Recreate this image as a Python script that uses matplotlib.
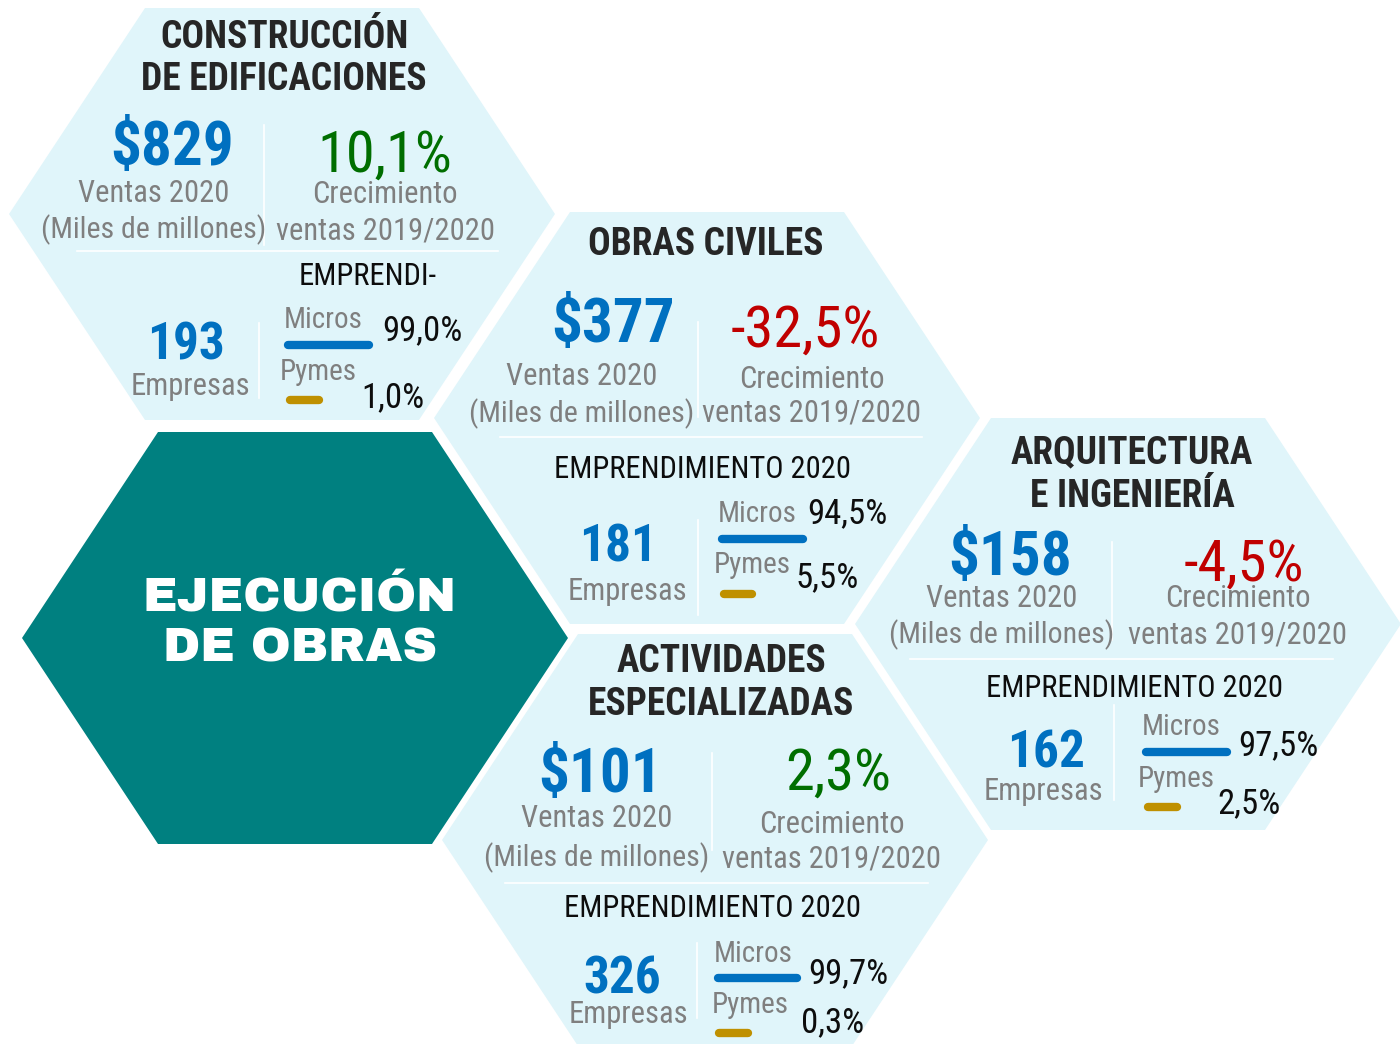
import matplotlib
matplotlib.use('Agg')
import matplotlib.pyplot as plt
from matplotlib.patches import Polygon

# Datos por subsector
sectores = [['CONSTRUCCIÓN', 'DE EDIFICACIONES'], ['OBRAS CIVILES'],
            ['ARQUITECTURA', 'E INGENIERÍA'], ['ACTIVIDADES', 'ESPECIALIZADAS']]
ventas = [829, 377, 158, 101]           # miles de millones
crecimiento = [10.1, -32.5, -4.5, 2.3]  # % ventas 2019/2020
empresas = [193, 181, 162, 326]
micros = [99.0, 94.5, 97.5, 99.7]
pymes = [1.0, 5.5, 2.5, 0.3]
titulo_emp = ['EMPRENDI-', 'EMPRENDIMIENTO 2020', 'EMPRENDIMIENTO 2020', 'EMPRENDIMIENTO 2020']
titulo_central = ['EJECUCIÓN', 'DE OBRAS']

# Posiciones (pixeles) de cada hexagono
layout = [
    dict(centro=(282, 214), titulo=[48, 90], tit_x=284, ventas=(172, 165), v_x=154, v_lbl=(202, 238),
         sep_v=(264, 125, 245), crec=(385, 172), c_x=385, c_lbl=(203, 239), sep_h=(251, 77, 498),
         emp_tit=(368, 285), emp=(186, 360), emp_lbl=(190, 395), sep_v2=(259, 323, 398),
         mic=(284, 328), mic_val=(382, 340), bar_m=(284, 373, 345), pym=(280, 380), pym_val=(361, 407),
         bar_p=(286, 323, 400)),
    dict(centro=(707, 418), titulo=[255], tit_x=706, ventas=(613, 342), v_x=582, v_lbl=(385, 422),
         sep_v=(698, 322, 417), crec=(805, 347), c_x=812, c_lbl=(388, 422), sep_h=(437, 500, 922),
         emp_tit=(703, 478), emp=(618, 562), emp_lbl=(627, 600), sep_v2=(698, 520, 615),
         mic=(718, 522), mic_val=(807, 523), bar_m=(718, 807, 539), pym=(714, 573), pym_val=(795, 587),
         bar_p=(720, 756, 594)),
    dict(centro=(1128, 624), titulo=[463, 507], tit_x=1132, ventas=(1010, 575), v_x=1002, v_lbl=(607, 643),
         sep_v=(1112, 542, 640), crec=(1244, 581), c_x=1238, c_lbl=(607, 643), sep_h=(659, 910, 1333),
         emp_tit=(1135, 697), emp=(1046, 767), emp_lbl=(1043, 800), sep_v2=(1114, 705, 800),
         mic=(1142, 735), mic_val=(1238, 755), bar_m=(1142, 1231, 752), pym=(1138, 787), pym_val=(1217, 813),
         bar_p=(1144, 1181, 807)),
    dict(centro=(715, 840), titulo=[672, 715], tit_x=721, ventas=(600, 792), v_x=597, v_lbl=(827, 866),
         sep_v=(712, 753, 850), crec=(838, 790), c_x=832, c_lbl=(833, 868), sep_h=(883, 505, 928),
         emp_tit=(713, 917), emp=(622, 993), emp_lbl=(628, 1023), sep_v2=(697, 943, 1018),
         mic=(714, 962), mic_val=(808, 983), bar_m=(714, 801, 978), pym=(712, 1013), pym_val=(801, 1032),
         bar_p=(715, 752, 1033)),
]
centro_principal = (295, 638)

AZUL_FONDO = '#e0f5fa'
TEAL = '#008080'
AZUL = '#0070c0'
VERDE = '#006e00'
ROJO = '#c00000'
GRIS = '#7f7f7f'
NEGRO = '#0d0d0d'
DORADO = '#bf9000'

NARROW = ['Roboto Condensed', 'Liberation Sans', 'DejaVu Sans']


def hexagono(cx, cy, color):
    hw, te, hh = 273, 137, 206
    pts = [(cx - hw, cy), (cx - te, cy - hh), (cx + te, cy - hh),
           (cx + hw, cy), (cx + te, cy + hh), (cx - te, cy + hh)]
    return Polygon(pts, closed=True, facecolor=color, edgecolor='none', zorder=1)


def pct(v):
    return f'{v:.1f}%'.replace('.', ',')


fig = plt.figure(figsize=(14, 10.44), dpi=100)
ax = fig.add_axes([0, 0, 1, 1])
ax.set_xlim(0, 1400)
ax.set_ylim(1044, 0)
ax.axis('off')

# hexagono central
ax.add_patch(hexagono(*centro_principal, TEAL))
for linea, yb in zip(titulo_central, [611, 662]):
    ax.text(300, yb, linea, ha='center', va='baseline', color='white', fontsize=34.5,
            family=['Archivo Black', 'Liberation Sans', 'DejaVu Sans'], weight='normal', zorder=3)

for i, L in enumerate(layout):
    ax.add_patch(hexagono(*L['centro'], AZUL_FONDO))
    kw = dict(family=NARROW, va='baseline', zorder=3)

    for linea, yb in zip(sectores[i], L['titulo']):
        ax.text(L['tit_x'], yb, linea, ha='center', color='#262626', fontsize=27, weight='bold', **kw)

    # ventas
    ax.text(L['ventas'][0], L['ventas'][1], f'${ventas[i]}', ha='center', color=AZUL,
            fontsize=44, weight='bold', **kw)
    ax.text(L['v_x'], L['v_lbl'][0], 'Ventas 2020', ha='center', color=GRIS, fontsize=22, **kw)
    ax.text(L['v_x'], L['v_lbl'][1], '(Miles de millones)', ha='center', color=GRIS, fontsize=21.5, **kw)

    # crecimiento
    color_c = VERDE if crecimiento[i] > 0 else ROJO
    ax.text(L['crec'][0], L['crec'][1], pct(crecimiento[i]), ha='center', color=color_c,
            fontsize=42, **kw)
    ax.text(L['c_x'], L['c_lbl'][0], 'Crecimiento', ha='center', color=GRIS, fontsize=22, **kw)
    ax.text(L['c_x'], L['c_lbl'][1], 'ventas 2019/2020', ha='center', color=GRIS, fontsize=22, **kw)

    # separadores
    x, y0, y1 = L['sep_v']
    ax.plot([x, x], [y0, y1], color='white', lw=1.2, zorder=2)
    y, x0, x1 = L['sep_h']
    ax.plot([x0, x1], [y, y], color='white', lw=1.2, zorder=2)
    x, y0, y1 = L['sep_v2']
    ax.plot([x, x], [y0, y1], color='white', lw=1.2, zorder=2)

    # emprendimiento
    ax.text(L['emp_tit'][0], L['emp_tit'][1], titulo_emp[i], ha='center', color=NEGRO, fontsize=22, **kw)
    ax.text(L['emp'][0], L['emp'][1], f'{empresas[i]}', ha='center', color=AZUL,
            fontsize=37, weight='bold', **kw)
    ax.text(L['emp_lbl'][0], L['emp_lbl'][1], 'Empresas', ha='center', color=GRIS, fontsize=22, **kw)

    ax.text(L['mic'][0], L['mic'][1], 'Micros', ha='left', color=GRIS, fontsize=21, **kw)
    ax.text(L['mic_val'][0], L['mic_val'][1], pct(micros[i]), ha='left', color=NEGRO, fontsize=25, **kw)
    x0, x1, y = L['bar_m']
    ax.plot([x0 + 4, x1 - 4], [y, y], color=AZUL, lw=6, solid_capstyle='round', zorder=3)

    ax.text(L['pym'][0], L['pym'][1], 'Pymes', ha='left', color=GRIS, fontsize=21, **kw)
    ax.text(L['pym_val'][0], L['pym_val'][1], pct(pymes[i]), ha='left', color=NEGRO, fontsize=25, **kw)
    x0, x1, y = L['bar_p']
    ax.plot([x0 + 4, x1 - 4], [y, y], color=DORADO, lw=6, solid_capstyle='round', zorder=3)

fig.savefig('out.png', dpi=100, facecolor='white')
